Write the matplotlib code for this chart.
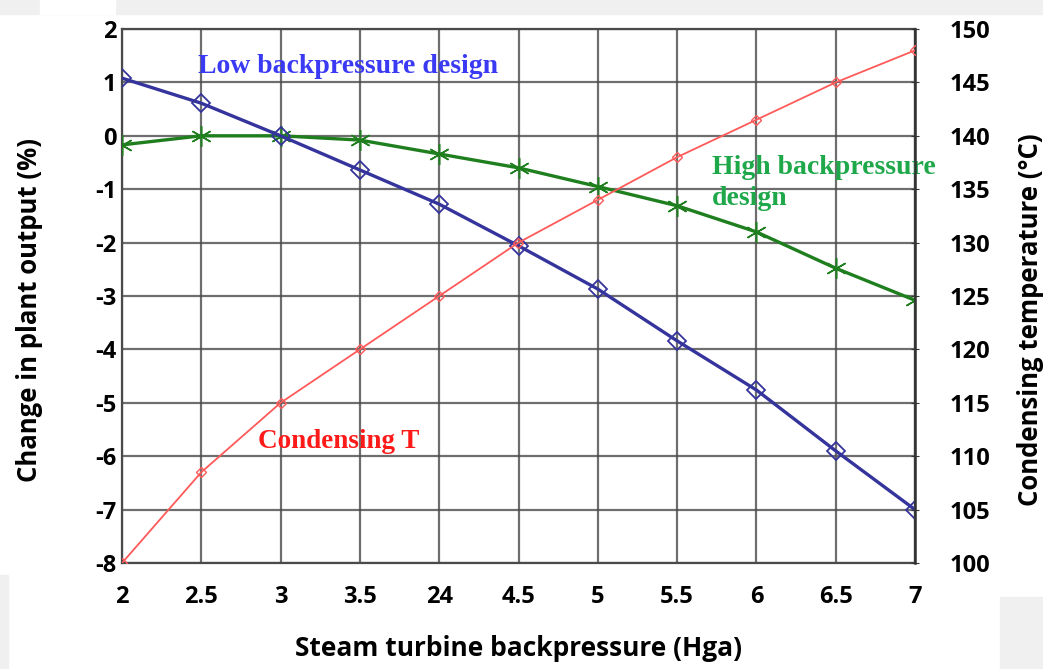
import matplotlib.pyplot as plt
from matplotlib.patches import Rectangle

# x categories (the "24" typo is in the original chart)
x_labels = ['2', '2.5', '3', '3.5', '24', '4.5', '5', '5.5', '6', '6.5', '7']
low_bp = [1.08, 0.61, 0.0, -0.64, -1.28, -2.06, -2.87, -3.84, -4.76, -5.9, -7.0]
high_bp = [-0.17, 0.0, 0.0, -0.08, -0.34, -0.6, -0.95, -1.31, -1.8, -2.48, -3.08]
cond_t = [100, 108.5, 115, 120, 125, 130, 134, 138, 141.5, 145, 148]

plt.rcParams['font.family'] = ['Open Sans', 'DejaVu Sans']
plt.rcParams['axes.unicode_minus'] = False
xs = list(range(len(x_labels)))

fig = plt.figure(figsize=(10.43, 6.69), dpi=100)
# light grey margins from the screenshot
fig.patches.append(Rectangle((0, 1 - 14/669), 1, 14/669, transform=fig.transFigure,
                             color='#f0f0f0', zorder=0))
fig.patches.append(Rectangle((40/1043, 1 - 14/669), 75/1043, 14/669, transform=fig.transFigure,
                             color='white', zorder=0))
fig.patches.append(Rectangle((0, 0), 8/1043, 94/669, transform=fig.transFigure,
                             color='#f0f0f0', zorder=0))
fig.patches.append(Rectangle((1000/1043, 0), 43/1043, 72/669, transform=fig.transFigure,
                             color='#f0f0f0', zorder=0))

ax = fig.add_axes([122/1043, 1 - 563/669, (915 - 122)/1043, (563 - 29)/669])
ax2 = ax.twinx()

ax.plot(xs, low_bp, color='#34349c', lw=2.4, marker='D', ms=9, mfc='none', mew=1.3, zorder=5)
ax.plot(xs, high_bp, color='#1f7f1f', lw=2.4, marker=(6, 2, 0), ms=15, mew=1.1, zorder=4)
ax2.plot(xs, cond_t, color='#ff5a5a', lw=1.3, marker='D', ms=5, mfc='none', mew=1.0, zorder=3)

ax.set_xlim(0, len(x_labels) - 1)
ax.set_ylim(-8, 2)
ax2.set_ylim(100, 150)
ax.set_xticks(xs)
ax.set_xticklabels(x_labels)
ax.set_yticks(range(-8, 3))
ax2.set_yticks(range(100, 151, 5))
ax.grid(True, color='#4a4a4a', lw=1.6, alpha=0.8)
ax.set_axisbelow(True)

for s in ax.spines.values():
    s.set_color('#4a4a4a')
    s.set_linewidth(1.6)
for s in ax2.spines.values():
    s.set_visible(False)
ax2.spines['right'].set_visible(True)
ax2.spines['right'].set_color('#333333')
ax2.spines['right'].set_linewidth(1.8)

ax.tick_params(axis='y', length=0, labelsize=17, pad=4)
ax.tick_params(axis='x', length=0, labelsize=17, pad=16)
ax2.tick_params(axis='y', length=6, direction='inout', labelsize=17, pad=22, color='#333333')
for lab in ax.get_xticklabels() + ax.get_yticklabels() + ax2.get_yticklabels():
    lab.set_fontweight('bold')

ax.set_xlabel('Steam turbine backpressure (Hga)', fontsize=19, fontweight='bold')
ax.set_ylabel('Change in plant output (%)', fontsize=18.5, fontweight='bold')
ax2.set_ylabel('Condensing temperature (°C)', fontsize=18.5, fontweight='bold')
ax.xaxis.set_label_coords(0.5, -0.135)
ax.yaxis.set_label_coords(-0.1, 0.474)
ax2.yaxis.set_label_coords(1.128, 0.455)

serif = ['Liberation Serif', 'DejaVu Serif']
ax.text(0.96, 1.29, 'Low backpressure design', color='#3a3af5', fontsize=20,
        fontweight='bold', family=serif, va='center', ha='left')
ax.text(7.44, -0.89, 'High backpressure\ndesign', color='#1ea84a', fontsize=20,
        fontweight='bold', family=serif, va='center', ha='left', linespacing=1.3)
ax.text(1.71, -5.72, 'Condensing T', color='#ff1a1a', fontsize=19.5,
        fontweight='bold', family=serif, va='center', ha='left')

fig.savefig('out.png', dpi=100)
